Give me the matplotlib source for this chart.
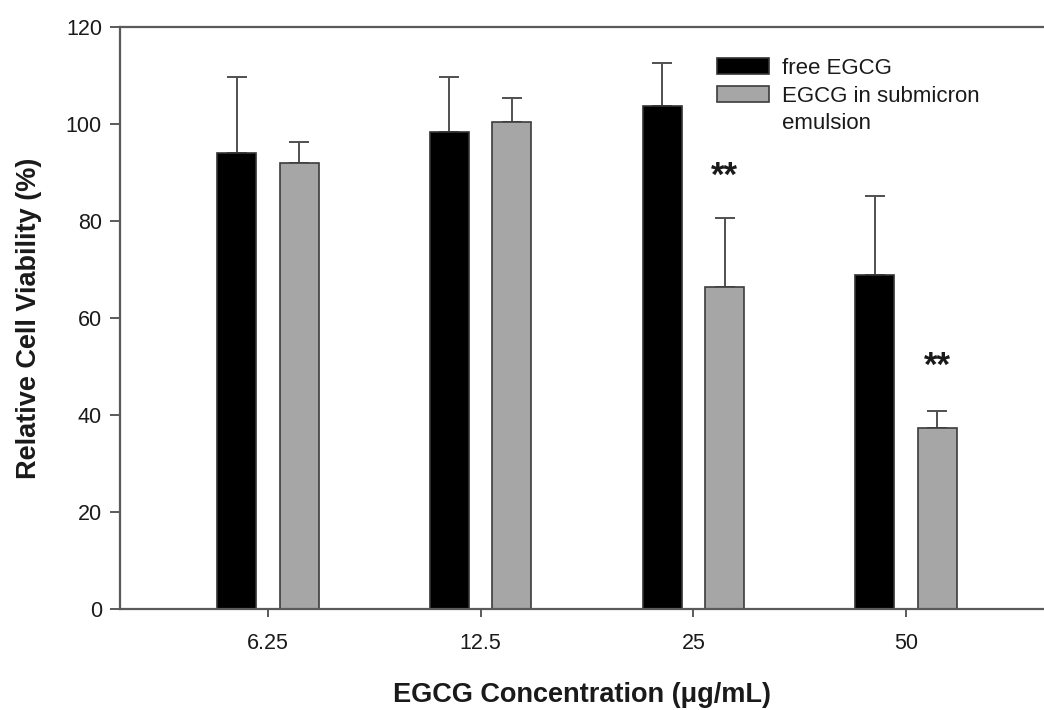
import numpy as np
import matplotlib
matplotlib.use("Agg")
import matplotlib.pyplot as plt
from matplotlib.patches import Patch

plt.rcParams["font.family"] = ["Liberation Sans", "DejaVu Sans"]

# data
concentrations = ["6.25", "12.5", "25", "50"]
free_egcg = [94.0, 98.4, 103.7, 68.9]
free_egcg_err = [15.7, 11.3, 8.9, 16.3]
emulsion_egcg = [92.0, 100.4, 66.4, 37.3]
emulsion_egcg_err = [4.3, 5.0, 14.2, 3.5]
significance = ["", "", "**", "**"]
star_y = [None, None, 89.2, 50.0]

spine_col = "#5a5a5a"
text_col = "#1a1a1a"

fig = plt.figure(figsize=(10.44, 7.10), dpi=100)
ax = fig.add_axes([120/1044, 1-609/710, 1-120/1044, (609-27)/710])

x = np.arange(len(concentrations))
width = 0.184
offset = 0.147

b1 = ax.bar(x - offset, free_egcg, width, color="black", edgecolor="#333333",
            linewidth=1.2, zorder=2)
b2 = ax.bar(x + offset, emulsion_egcg, width, color="#a6a6a6", edgecolor="#3c3c3c",
            linewidth=1.2, zorder=2)

ax.errorbar(x - offset, free_egcg, yerr=[np.zeros(4), free_egcg_err], fmt="none",
            ecolor="#505050", elinewidth=1.4, capsize=7.5, capthick=1.4, zorder=1)
ax.errorbar(x + offset, emulsion_egcg, yerr=[np.zeros(4), emulsion_egcg_err], fmt="none",
            ecolor="#505050", elinewidth=1.4, capsize=7.5, capthick=1.4, zorder=1)

for xi, s, sy in zip(x, significance, star_y):
    if s:
        ax.text(xi + offset, sy, s, ha="center", va="center", fontsize=25,
                fontweight="bold", color=text_col)

ax.set_xlim(-0.696, 3.649)
ax.set_ylim(0, 120)
ax.set_yticks(np.arange(0, 121, 20))
ax.set_xticks(x)
ax.set_xticklabels(concentrations)

for side in ["left", "top", "bottom"]:
    ax.spines[side].set_color(spine_col)
    ax.spines[side].set_linewidth(1.6)
ax.spines["right"].set_visible(False)

ax.tick_params(axis="y", direction="out", length=7, width=1.4, color=spine_col,
               labelsize=15.5, labelcolor=text_col, pad=6)
ax.tick_params(axis="x", direction="out", length=5.5, width=1.4, color=spine_col,
               labelsize=15.5, labelcolor=text_col, pad=12)

ax.set_ylabel("Relative Cell Viability (%)", fontsize=19.5, fontweight="bold",
              color=text_col, labelpad=17)
ax.set_xlabel("EGCG Concentration (\u03bcg/mL)", fontsize=19.5, fontweight="bold",
              color=text_col, labelpad=20)

# second label line kept as its own row so the grey key sits on the first line
blank = Patch(visible=False)
leg = ax.legend([b1, b2, blank], ["free EGCG", "EGCG in submicron", "emulsion"],
                loc="upper left", bbox_to_anchor=(717/1044, 1-58/710),
                bbox_transform=fig.transFigure, frameon=False, fontsize=16,
                handlelength=2.34, handleheight=0.72, handletextpad=0.59,
                labelspacing=0.3, borderpad=0, borderaxespad=0)
for t in leg.get_texts():
    t.set_color(text_col)

fig.savefig("out.png", dpi=100)
